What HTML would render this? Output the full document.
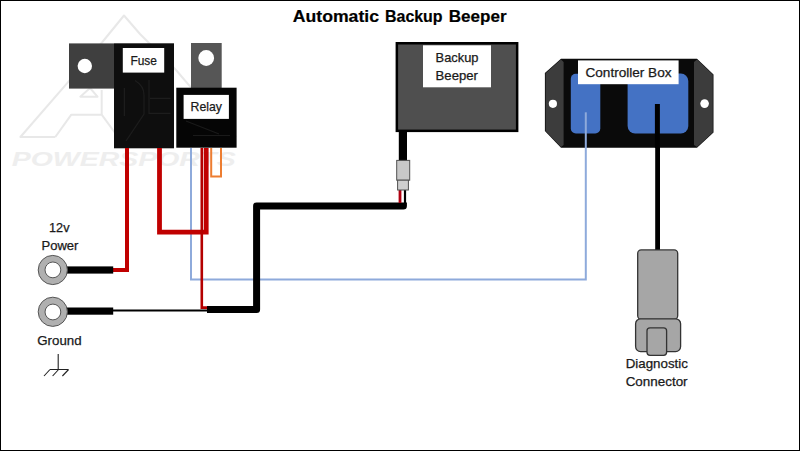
<!DOCTYPE html>
<html>
<head>
<meta charset="utf-8">
<style>
html,body{margin:0;padding:0;background:#fff;}
body{width:800px;height:451px;overflow:hidden;}
svg{display:block;}
text{font-family:"Liberation Sans",sans-serif;}
text[fill="#1a1a1a"]{stroke:#1a1a1a;stroke-width:0.25px;}
</style>
</head>
<body>
<svg width="800" height="451" viewBox="0 0 800 451">
<rect x="0" y="0" width="800" height="451" fill="#fff"/>

<!-- watermark -->
<g fill="none" stroke="#e8e8e8" stroke-width="2" stroke-linejoin="round">
  <path d="M55.3,137 H20.4 L68.5,81.7 L102.4,42 L124,15.5 L140,34 L176,70 L190,86.4 L236,137"/>
  <path d="M55.3,137 L71.3,114.7 H101.7 L118,137"/>
  <path d="M101.7,114.7 V90"/>
  <path d="M80.3,96.7 H97.5 L90,88 Z"/>
</g>
<text x="11.7" y="166" font-size="19.5" font-weight="bold" font-style="italic" fill="#eeeeee" textLength="224" lengthAdjust="spacingAndGlyphs">POWERSPORTS</text>

<!-- title -->
<g font-size="17" font-weight="bold" fill="#000" stroke="#000" stroke-width="0.2">
<text x="292.8" y="21.9" textLength="86.2" lengthAdjust="spacingAndGlyphs">Automatic</text>
<text x="385" y="21.9" textLength="57.6" lengthAdjust="spacingAndGlyphs">Backup</text>
<text x="448.8" y="21.9" textLength="57.8" lengthAdjust="spacingAndGlyphs">Beeper</text>
</g>

<!-- fuse tab -->
<rect x="69" y="43.4" width="45" height="45.2" fill="#3f3f3f"/>
<circle cx="84.8" cy="66" r="7.2" fill="#fff"/>
<!-- fuse box -->
<rect x="114" y="43.3" width="60" height="105" fill="#0e0e0e"/>
<g fill="none" stroke="#1d1d1d" stroke-width="1.2">
  <path d="M124.4,88 V116"/>
  <path d="M135,80.6 Q144,86 144,95 V114 L126,141"/>
  <path d="M149,80 V113.4 H170.5 M150,98.4 H170.5"/>
</g>
<rect x="122.8" y="48" width="41.4" height="24.6" fill="#fff"/>
<text x="130.4" y="65" font-size="12.9" fill="#1a1a1a" textLength="26.5" lengthAdjust="spacingAndGlyphs">Fuse</text>

<!-- relay tab -->
<rect x="191" y="43" width="30.7" height="45" fill="#565656"/>
<circle cx="206.2" cy="58" r="7.9" fill="#fff"/>
<!-- relay box -->
<rect x="176.3" y="87.7" width="60.3" height="60" fill="#050505"/>
<g fill="none" stroke="#1a1a1a" stroke-width="1.2">
  <path d="M193,135.5 H230 M186,121 L219,134"/>
</g>
<rect x="183.6" y="94.9" width="45.3" height="24" fill="#fff"/>
<text x="190.6" y="111.2" font-size="12.9" fill="#1a1a1a" textLength="31.4" lengthAdjust="spacingAndGlyphs">Relay</text>

<!-- wires -->
<g fill="none" stroke-linejoin="miter">
  <!-- blue -->
  <path d="M191,148 V279.6 H585.8 V112.3" stroke="#8eaadb" stroke-width="2"/>
  <!-- red 1 -->
  <path d="M127,148 V270 H113" stroke="#c00000" stroke-width="4"/>
  <!-- red 2 loop -->
  <path d="M159.5,148 V232.2 H206.2 V148" stroke="#c00000" stroke-width="4.8"/>
  <!-- thin red -->
  <path d="M201.8,148 V307.6 H208" stroke="#b40000" stroke-width="2.6"/>
  <!-- orange loop -->
  <path d="M211.2,148 V176.4 H221 V148" stroke="#ed7d31" stroke-width="2"/>
  <!-- thin black ground -->
  <path d="M113,310.6 H208" stroke="#000" stroke-width="2"/>
  <!-- thick black -->
  <path d="M207,309.6 H256.6 V206 H403.4 V202.5" stroke="#000" stroke-width="7" stroke-linejoin="round"/>
  <!-- beeper small wires -->
  <path d="M400,190 V203" stroke="#b00010" stroke-width="2.8"/>
  <path d="M405,190 V204" stroke="#000" stroke-width="2.2"/>
  <!-- controller black wire -->
  <path d="M657.6,104 V250" stroke="#000" stroke-width="4.8"/>
</g>

<!-- ring terminals -->
<rect x="67" y="266.4" width="46.2" height="7.2" fill="#000"/>
<rect x="67" y="307.5" width="46.2" height="7.2" fill="#000"/>
<circle cx="52.8" cy="270" r="14.6" fill="#b0b0b0" stroke="#555" stroke-width="1"/>
<circle cx="52.9" cy="269.9" r="7.9" fill="#fff" stroke="#555" stroke-width="1"/>
<circle cx="52.8" cy="311.8" r="14.6" fill="#b0b0b0" stroke="#555" stroke-width="1"/>
<circle cx="52.9" cy="312" r="7.9" fill="#fff" stroke="#555" stroke-width="1"/>

<text x="49" y="232.3" font-size="12.4" fill="#1a1a1a" textLength="20.5" lengthAdjust="spacingAndGlyphs">12v</text>
<text x="41.5" y="250" font-size="12.4" fill="#1a1a1a" textLength="36.9" lengthAdjust="spacingAndGlyphs">Power</text>
<text x="37.3" y="345" font-size="12.4" fill="#1a1a1a" textLength="44.3" lengthAdjust="spacingAndGlyphs">Ground</text>

<!-- ground symbol -->
<g stroke="#222" stroke-width="1.1" fill="none">
  <path d="M58.2,354 V369.5 M50,369.5 H68.6 M50,369.5 L44,376 M58.6,369.5 L52.6,376 M68.6,369.5 L62.4,376"/>
</g>

<!-- beeper cable and connector -->
<rect x="398.8" y="130" width="8.2" height="31" fill="#000"/>
<rect x="396.7" y="160.4" width="13" height="19.8" fill="#c8c8c8" stroke="#505050" stroke-width="1"/>
<rect x="397.6" y="180.2" width="10.8" height="9.8" fill="#cfcfcf" stroke="#505050" stroke-width="1"/>

<!-- backup beeper box -->
<rect x="396.85" y="43.25" width="120.3" height="87.6" fill="#4f4f4f" stroke="#000" stroke-width="2.5"/>
<rect x="423" y="45.3" width="68" height="42" fill="#fff"/>
<text x="435.6" y="61.5" font-size="12.4" fill="#1a1a1a" textLength="42.9" lengthAdjust="spacingAndGlyphs">Backup</text>
<text x="435.6" y="79.9" font-size="12.4" fill="#1a1a1a" textLength="42.3" lengthAdjust="spacingAndGlyphs">Beeper</text>

<!-- controller box -->
<polygon points="561,58.8 697,58.8 713.5,74.4 713.5,132.6 697,147.7 561,147.7 544.9,131 544.9,73.1" fill="#0a0a0a"/>
<polygon points="561,59.6 563.6,62 563.6,145 561,147 545.6,131 545.6,73.3" fill="#3c3c3c"/>
<polygon points="697,59.6 694,62 694,145 697,147 712.8,132.4 712.8,74.6" fill="#3c3c3c"/>
<circle cx="552.9" cy="103.8" r="4.1" fill="#fff"/>
<circle cx="704.6" cy="103.6" r="4.3" fill="#fff"/>
<rect x="570.8" y="73.8" width="29.5" height="59.7" rx="5" fill="#4472c4"/>
<rect x="627.6" y="73.6" width="60.7" height="59.9" rx="7.5" fill="#4472c4"/>
<rect x="578" y="60.4" width="100.6" height="23.8" fill="#fff"/>
<text x="585.5" y="77.2" font-size="12.4" fill="#1a1a1a" textLength="86" lengthAdjust="spacingAndGlyphs">Controller Box</text>
<path d="M585.8,112.3 V148" stroke="#8eaadb" stroke-width="2"/>
<path d="M657.4,104 V148" stroke="#000" stroke-width="5"/>

<!-- diagnostic connector -->
<rect x="637.7" y="249.9" width="40" height="69.4" rx="3.5" fill="#a6a6a6" stroke="#333" stroke-width="1.3"/>
<rect x="635.6" y="318.8" width="45" height="32.8" rx="5" fill="#a6a6a6" stroke="#333" stroke-width="1.3"/>
<rect x="647" y="327.8" width="19.6" height="27.5" rx="3" fill="#a6a6a6" stroke="#333" stroke-width="1.3"/>
<text x="625.7" y="367.8" font-size="12.4" fill="#1a1a1a" textLength="62.2" lengthAdjust="spacingAndGlyphs">Diagnostic</text>
<text x="625.7" y="386.1" font-size="12.4" fill="#1a1a1a" textLength="61.9" lengthAdjust="spacingAndGlyphs">Connector</text>

<!-- border -->
<rect x="0.5" y="0.5" width="799" height="450" fill="none" stroke="#000" stroke-width="1"/>
</svg>
</body>
</html>
